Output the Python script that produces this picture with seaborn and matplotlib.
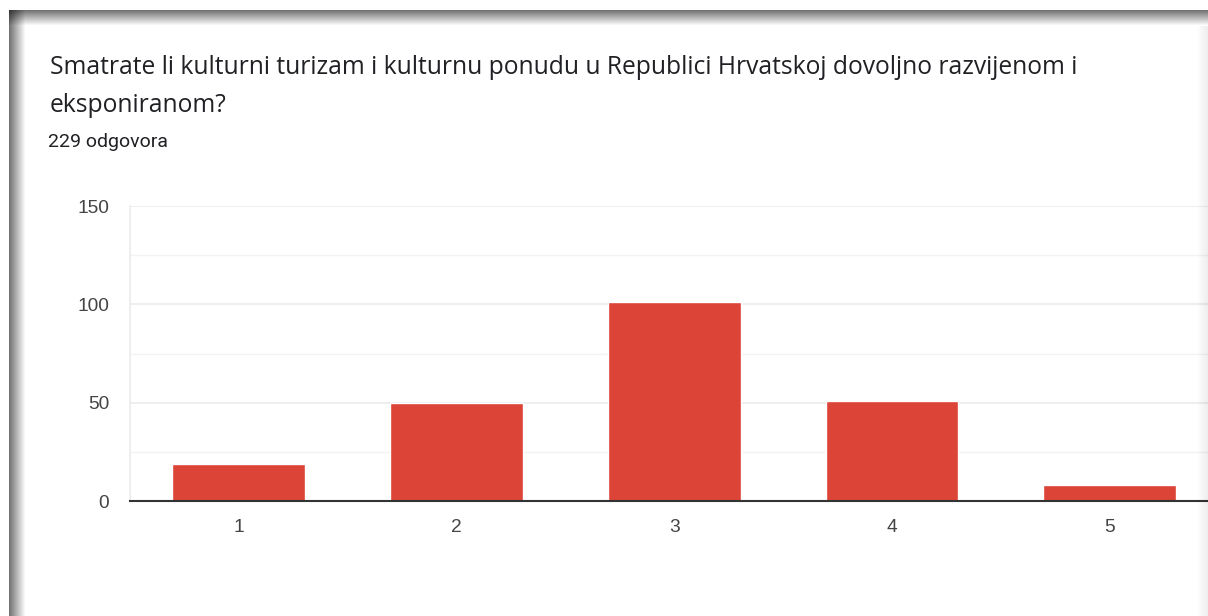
import numpy as np
import pandas as pd
import matplotlib
matplotlib.use("Agg")
import matplotlib.pyplot as plt
import seaborn as sns

categories = ["1", "2", "3", "4", "5"]
counts = [19, 50, 101, 51, 8]
yticks = [0, 50, 100, 150]
title_lines = ["Smatrate li kulturni turizam i kulturnu ponudu u Republici Hrvatskoj dovoljno razvijenom i",
               "eksponiranom?"]
subtitle = "229 odgovora"

df = pd.DataFrame({"ocjena": categories, "broj": counts})

sns.set_theme(style="white")
plt.rcParams["font.family"] = ["Liberation Sans", "DejaVu Sans"]

W, H = 1208, 616
fig = plt.figure(figsize=(W / 100, H / 100), dpi=100)
fig.patch.set_facecolor("white")

# plot area: x 130..1208, y 206..501 (pixels)
ax = fig.add_axes([130 / W, 1 - 501 / H, (1208 - 130) / W, (501 - 206) / H])
sns.barplot(data=df, x="ocjena", y="broj", color="#DB4437", width=0.61,
            saturation=1, ax=ax, zorder=3)
ax.set_xlim(-0.5, 4.452)
ax.set_ylim(0, 150)
ax.set_yticks(yticks)
ax.set_yticks([25, 75, 125], minor=True)
ax.grid(axis="y", which="major", color="#ebebeb", linewidth=1.2, zorder=0)
ax.grid(axis="y", which="minor", color="#f3f3f3", linewidth=1.0, zorder=0)
ax.set_xlabel("")
ax.set_ylabel("")
for s in ["top", "right"]:
    ax.spines[s].set_visible(False)
ax.spines["left"].set_color("#ebebeb")
ax.spines["left"].set_linewidth(1.2)
ax.spines["bottom"].set_color("#333333")
ax.spines["bottom"].set_linewidth(1.5)
ax.spines["bottom"].set_zorder(5)
ax.tick_params(axis="both", which="both", length=0, labelsize=13.8, labelcolor="#444444")
ax.tick_params(axis="y", pad=15)
ax.tick_params(axis="x", pad=13)

# title & subtitle
for line, ypix in zip(title_lines, [68, 105]):
    fig.text(50 / W, 1 - ypix / H, line, fontsize=17.7, color="#202124",
             family=["Open Sans", "DejaVu Sans"], va="center", ha="left")
fig.text(48 / W, 1 - 142 / H, subtitle, fontsize=14, color="#202124",
         family=["Roboto", "DejaVu Sans"], va="center", ha="left")

# card shadow (top and left gradients, semi-transparent black)
def shadow(rect, alphas, vertical):
    a = fig.add_axes(rect)
    a.set_facecolor("none")
    arr = np.zeros((len(alphas), 1, 4)) if vertical else np.zeros((1, len(alphas), 4))
    if vertical:
        arr[:, 0, 3] = alphas
    else:
        arr[0, :, 3] = alphas
    a.imshow(arr, aspect="auto", interpolation="bilinear")
    a.axis("off")

shadow([9 / W, 1 - 26 / H, 1 - 9 / W, 16 / H], np.linspace(0.55, 0.0, 16), True)
shadow([9 / W, 0, 16 / W, 1 - 10 / H], np.linspace(0.55, 0.0, 16), False)
shadow([1196 / W, 0, 12 / W, 1 - 26 / H], np.linspace(0.0, 0.07, 12), False)

fig.savefig("out.png", dpi=100, facecolor="white")
